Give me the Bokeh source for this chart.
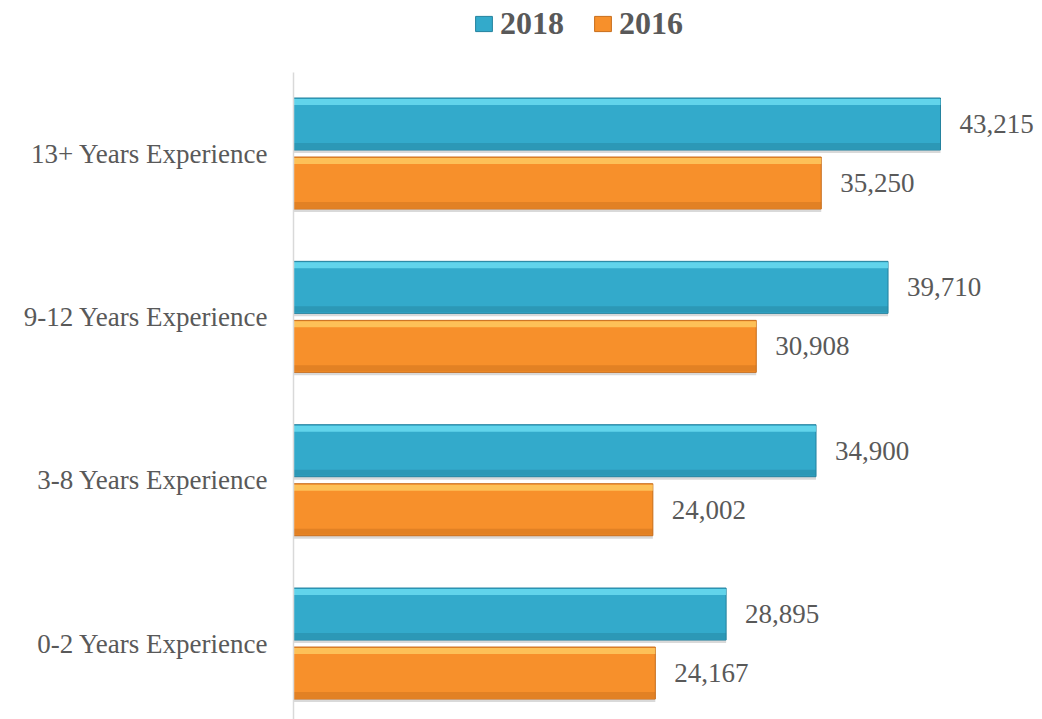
from bokeh.plotting import figure
from bokeh.layouts import column
from bokeh.models import Range1d, FixedTicker, Legend, LegendItem, ColumnDataSource
from bokeh.core.properties import value
from bokeh.embed import file_html
from bokeh.resources import INLINE

# ---- data ----
categories = ["0-2 Years Experience", "3-8 Years Experience",
              "9-12 Years Experience", "13+ Years Experience"]
values_2018 = [28895, 34900, 39710, 43215]
values_2016 = [24167, 24002, 30908, 35250]
series_names = ["2018", "2016"]

# ---- style ----
FONT = "Liberation Serif"
TXT = "#595959"
BLUE = "#33AACB"
BLUE_HI = "#72E2F6"
BLUE_LO = "#24829E"
ORANGE = "#F7902B"
ORANGE_HI = "#FFD168"
ORANGE_LO = "#C76E1C"

PX_Y = 1 / 163.33          # data units per pixel (y)
BAR_H = 52 * PX_Y
OFFSET = 29.5 * PX_Y
HI_H = 6 * PX_Y

W = 1042
TOP_H = 72
MAIN_H = 719 - TOP_H
LEFT = 293

# ---- main chart ----
p = figure(width=W, height=MAIN_H, output_backend="svg", toolbar_location=None,
           x_range=Range1d(0, 50027), y_range=Range1d(0.035, 3.996),
           min_border_left=LEFT, min_border_right=0, min_border_top=0,
           min_border_bottom=0)
p.outline_line_color = None
p.xgrid.visible = False
p.ygrid.visible = False
p.xaxis.visible = False
p.background_fill_color = "white"
p.border_fill_color = "white"

idx = [i + 0.5 for i in range(len(categories))]
ax = p.yaxis[0]
ax.ticker = FixedTicker(ticks=idx)
ax.major_label_overrides = {c: lab for c, lab in zip(idx, categories)}
ax.axis_line_color = "#D9D9D9"
ax.axis_line_width = 1.5
ax.major_tick_line_color = None
ax.minor_tick_line_color = None
ax.major_tick_out = 0
ax.major_tick_in = 0
ax.major_label_standoff = 25
ax.major_label_text_font = FONT
ax.major_label_text_font_size = "27px"
ax.major_label_text_color = TXT

styles = [(BLUE, BLUE_HI, BLUE_LO), (ORANGE, ORANGE_HI, ORANGE_LO)]
for vals, off, (base, hi, lo) in [(values_2018, OFFSET, styles[0]),
                                  (values_2016, -OFFSET, styles[1])]:
    ys = [y + off for y in idx]
    src = ColumnDataSource(dict(y=ys, v=vals,
                                lab=[f"{v:,}" for v in vals],
                                ys=[y - 3 * PX_Y for y in ys],
                                ytop=[y + BAR_H / 2 - HI_H / 2 - 1 * PX_Y for y in ys],
                                ybot=[y - BAR_H / 2 + HI_H / 2 + 1 * PX_Y for y in ys]))
    # shadow
    p.hbar(y="ys", right="v", height=BAR_H, left=0, source=src,
           fill_color="#000000", fill_alpha=0.15, line_color=None)
    p.hbar(y="y", right="v", height=BAR_H, left=0, source=src,
           fill_color=base, line_color=lo, line_width=1)
    p.hbar(y="ytop", right="v", height=HI_H, left=0, source=src,
           fill_color=hi, fill_alpha=0.75, line_color=None)
    p.hbar(y="ybot", right="v", height=HI_H, left=0, source=src,
           fill_color=lo, fill_alpha=0.45, line_color=None)
    p.text(x="v", y="y", text="lab", source=src, x_offset=19,
           text_baseline="middle", text_align="left",
           text_font=value(FONT), text_font_size="27px", text_color=TXT)

# ---- legend strip (frame aligned with main chart by the column layout) ----
lg = figure(width=W, height=TOP_H, output_backend="svg", toolbar_location=None,
            x_range=Range1d(0, 1), y_range=Range1d(0, 1),
            min_border_left=LEFT, min_border_right=0, min_border_top=0,
            min_border_bottom=0)
lg.axis.visible = False
lg.grid.visible = False
lg.outline_line_color = None
lg_renderers = []
for base, hi, lo in styles:
    # off-screen proxy bar, only used to draw the legend swatch
    lg_renderers.append(lg.hbar(y=[-5], right=[1], height=1, left=0,
                                fill_color=base, line_color=lo, line_width=1))
legend = Legend(items=[LegendItem(label=n, renderers=[r])
                       for n, r in zip(series_names, lg_renderers)],
                orientation="horizontal", location=(180, 30),
                label_text_font=FONT, label_text_font_style="bold",
                label_text_font_size="32px", label_text_color=TXT,
                glyph_width=21, glyph_height=19, label_standoff=6,
                spacing=28, padding=0, margin=0,
                border_line_color=None, background_fill_alpha=0)
lg.add_layout(legend)

layout = column(lg, p, spacing=0)
open("out.html", "w").write(file_html(layout, INLINE))
